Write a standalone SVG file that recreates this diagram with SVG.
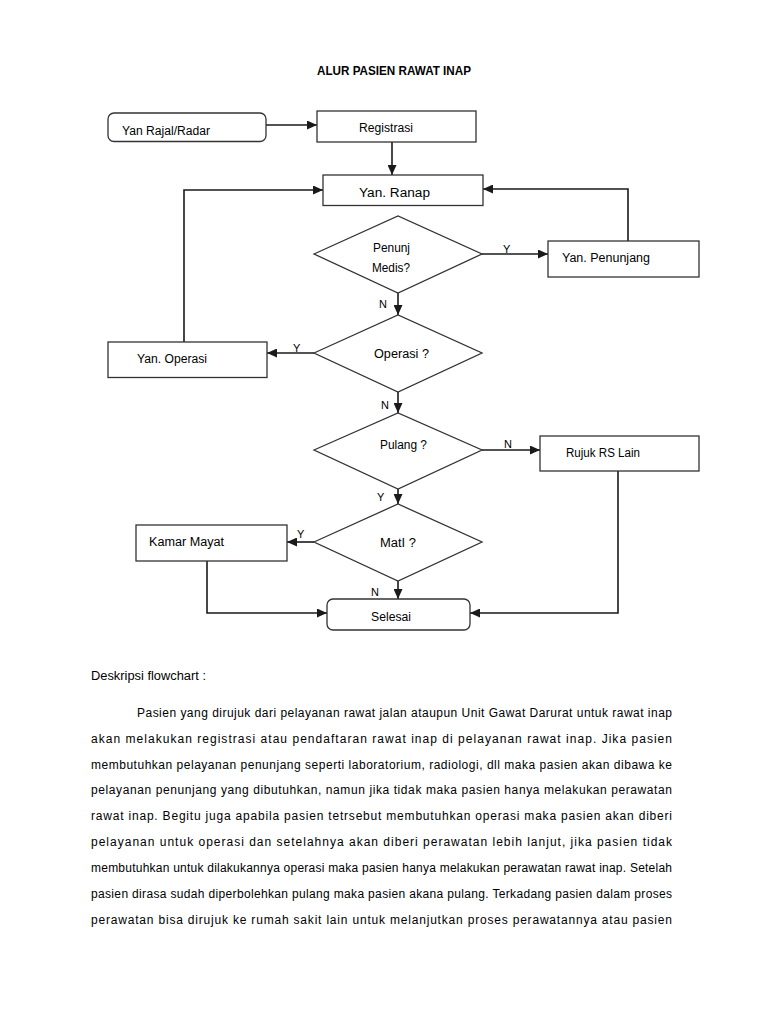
<svg xmlns="http://www.w3.org/2000/svg" width="768" height="1024" viewBox="0 0 768 1024">
<defs>
<marker id="arr" markerUnits="userSpaceOnUse" markerWidth="10" markerHeight="9" refX="10" refY="4.5" orient="auto">
<path d="M0,0 L10,4.5 L0,9 z" fill="#1a1a1a"/>
</marker>
<style>
.box{fill:#fff;stroke:#333;stroke-width:1.3}
.con{fill:none;stroke:#1a1a1a;stroke-width:1.6;marker-end:url(#arr)}
text{font-family:"Liberation Sans",Arial,sans-serif;fill:#000}
.lbl{font-size:12.5px}
.yn{font-size:11px}
.body{font-size:12px}
.title{font-size:12.5px;font-weight:bold}
</style>
</defs>
<rect width="768" height="1024" fill="#fff"/>
<text class="title" x="317" y="75" textLength="154" lengthAdjust="spacingAndGlyphs">ALUR PASIEN RAWAT INAP</text>

<g id="connectors">
<path class="con" d="M266,125 H317"/>
<path class="con" d="M392,142 V175"/>
<path class="con" d="M184,342 V190 H323"/>
<path class="con" d="M628,241 V189 H483"/>
<path class="con" d="M482,254 H548"/>
<path class="con" d="M398,293 V315"/>
<path class="con" d="M314,353 H267"/>
<path class="con" d="M398,392 V413"/>
<path class="con" d="M482,450 H540"/>
<path class="con" d="M398,489 V504"/>
<path class="con" d="M314,542 H287"/>
<path class="con" d="M398,581 V599"/>
<path class="con" d="M207,561 V613 H327"/>
<path class="con" d="M618,471 V613 H470"/>
<text class="yn" x="503" y="253">Y</text>
<text class="yn" x="379" y="308">N</text>
<text class="yn" x="293" y="352">Y</text>
<text class="yn" x="381" y="409">N</text>
<text class="yn" x="504" y="448">N</text>
<text class="yn" x="377" y="501">Y</text>
<text class="yn" x="297" y="538">Y</text>
<text class="yn" x="371" y="596">N</text>
</g>

<g id="yan-rajal">
<rect class="box" x="108" y="113" width="158" height="28.5" rx="6"/>
<text class="lbl" x="122" y="135" textLength="88" lengthAdjust="spacingAndGlyphs">Yan Rajal/Radar</text>
</g>
<g id="registrasi">
<rect class="box" x="317" y="111" width="159" height="31"/>
<text class="lbl" x="359" y="132" textLength="54" lengthAdjust="spacingAndGlyphs">Registrasi</text>
</g>
<g id="yan-ranap">
<rect class="box" x="323" y="175" width="160" height="30.5"/>
<text class="lbl" x="359" y="197" textLength="71" lengthAdjust="spacingAndGlyphs">Yan. Ranap</text>
</g>
<g id="penunj-medis">
<polygon class="box" points="314,254 398,216 482,254 398,293"/>
<text class="lbl" x="373" y="252" textLength="37" lengthAdjust="spacingAndGlyphs">Penunj</text>
<text class="lbl" x="372" y="272" textLength="38" lengthAdjust="spacingAndGlyphs">Medis?</text>
</g>
<g id="yan-penunjang">
<rect class="box" x="548" y="241" width="151" height="36"/>
<text class="lbl" x="562" y="262" textLength="88" lengthAdjust="spacingAndGlyphs">Yan. Penunjang</text>
</g>
<g id="operasi">
<polygon class="box" points="314,353 398,315 482,353 398,392"/>
<text class="lbl" x="374" y="358" textLength="55" lengthAdjust="spacingAndGlyphs">Operasi  ?</text>
</g>
<g id="yan-operasi">
<rect class="box" x="108" y="342" width="159" height="35.5"/>
<text class="lbl" x="137" y="363" textLength="70" lengthAdjust="spacingAndGlyphs">Yan. Operasi</text>
</g>
<g id="pulang">
<polygon class="box" points="314,450 398,413 482,450 398,489"/>
<text class="lbl" x="380" y="449" textLength="47" lengthAdjust="spacingAndGlyphs">Pulang ?</text>
</g>
<g id="rujuk">
<rect class="box" x="540" y="436" width="159" height="35"/>
<text class="lbl" x="566" y="457" textLength="74" lengthAdjust="spacingAndGlyphs">Rujuk RS Lain</text>
</g>
<g id="mati">
<polygon class="box" points="314,542 398,504 482,542 398,581"/>
<text class="lbl" x="380" y="547" textLength="36" lengthAdjust="spacingAndGlyphs">MatI ?</text>
</g>
<g id="kamar-mayat">
<rect class="box" x="136" y="525" width="151" height="36"/>
<text class="lbl" x="149" y="546" textLength="75" lengthAdjust="spacingAndGlyphs">Kamar Mayat</text>
</g>
<g id="selesai">
<rect class="box" x="327" y="599" width="143" height="31" rx="6"/>
<text class="lbl" x="371" y="621" textLength="40" lengthAdjust="spacingAndGlyphs">Selesai</text>
</g>

<g id="description">
<text class="body" x="91" y="680" textLength="115" lengthAdjust="spacingAndGlyphs">Deskripsi flowchart :</text>
<text class="body" x="137" y="717" textLength="535" lengthAdjust="spacing">Pasien yang dirujuk dari pelayanan rawat jalan ataupun Unit Gawat Darurat untuk rawat inap</text>
<text class="body" x="91" y="743" textLength="581" lengthAdjust="spacing">akan melakukan registrasi atau pendaftaran rawat inap di pelayanan rawat inap. Jika pasien</text>
<text class="body" x="91" y="768.5" textLength="581" lengthAdjust="spacing">membutuhkan pelayanan penunjang seperti laboratorium, radiologi, dll maka pasien akan dibawa ke</text>
<text class="body" x="91" y="794" textLength="581" lengthAdjust="spacing">pelayanan penunjang yang dibutuhkan, namun jika tidak maka pasien hanya melakukan perawatan</text>
<text class="body" x="91" y="820" textLength="581" lengthAdjust="spacing">rawat inap. Begitu juga apabila pasien tetrsebut membutuhkan operasi maka pasien akan diberi</text>
<text class="body" x="91" y="846" textLength="581" lengthAdjust="spacing">pelayanan untuk operasi dan setelahnya akan diberi perawatan lebih lanjut, jika pasien tidak</text>
<text class="body" x="91" y="872" textLength="581" lengthAdjust="spacing">membutuhkan untuk dilakukannya operasi maka pasien hanya melakukan perawatan rawat inap. Setelah</text>
<text class="body" x="91" y="897.5" textLength="581" lengthAdjust="spacing">pasien dirasa sudah diperbolehkan pulang maka pasien akana pulang. Terkadang pasien dalam proses</text>
<text class="body" x="91" y="923.5" textLength="581" lengthAdjust="spacing">perawatan bisa dirujuk ke rumah sakit lain untuk melanjutkan proses perawatannya atau pasien</text>
</g>
</svg>
